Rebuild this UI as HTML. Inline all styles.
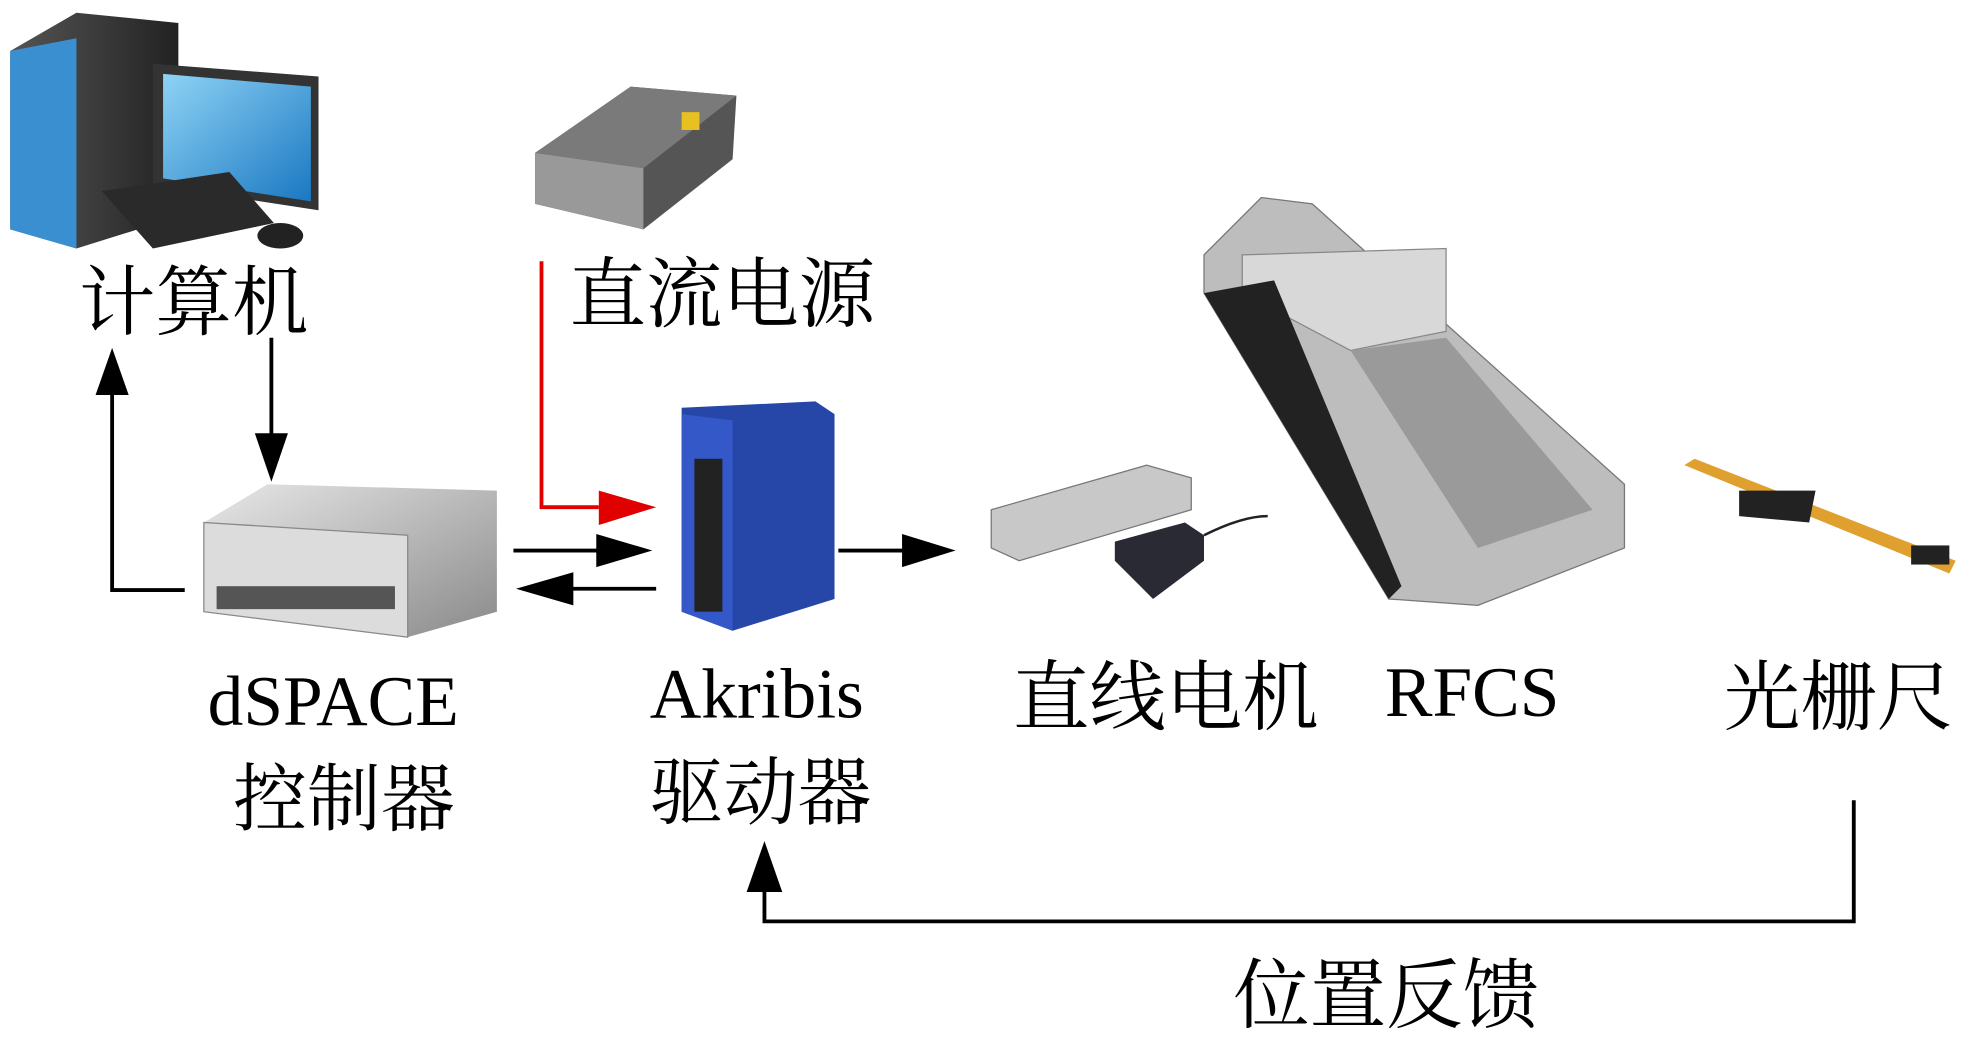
<!DOCTYPE html>
<html><head><meta charset="utf-8"><style>
html,body{margin:0;padding:0;background:#fff;}
svg{display:block;}
text{font-family:"Liberation Serif","Noto Serif CJK SC",serif;fill:#000;}
</style></head><body>
<svg width="1971" height="1059" viewBox="0 0 1547 831" preserveAspectRatio="none" xmlns="http://www.w3.org/2000/svg">
<defs>
<linearGradient id="blue" x1="0" y1="0" x2="1" y2="1"><stop offset="0" stop-color="#8fd3f5"/><stop offset="1" stop-color="#1a78c2"/></linearGradient>
<linearGradient id="gray" x1="0" y1="0" x2="1" y2="1"><stop offset="0" stop-color="#e8e8e8"/><stop offset="1" stop-color="#8a8a8a"/></linearGradient>
<linearGradient id="dk" x1="0" y1="0" x2="1" y2="0"><stop offset="0" stop-color="#555"/><stop offset="1" stop-color="#222"/></linearGradient>
</defs>
<!-- computer -->
<polygon points="8,40 60,10 140,18 140,170 60,195 8,180" fill="url(#dk)"/>
<polygon points="8,40 60,30 60,195 8,180" fill="#3a8fd0"/>
<polygon points="120,50 250,60 250,165 120,145" fill="#333"/>
<polygon points="128,58 244,68 244,158 128,140" fill="url(#blue)"/>
<polygon points="80,150 180,135 215,175 120,195" fill="#2a2a2a"/>
<ellipse cx="220" cy="185" rx="18" ry="10" fill="#222"/>
<!-- power supply -->
<polygon points="420,120 495,68 578,75 575,125 505,180 420,160" fill="#555"/>
<polygon points="420,120 505,132 505,180 420,160" fill="#999"/>
<polygon points="495,68 578,75 505,132 420,120" fill="#7a7a7a"/>
<rect x="535" y="88" width="14" height="14" fill="#e8c020"/>
<!-- dSPACE box -->
<polygon points="160,410 210,380 390,385 390,480 320,500 160,480" fill="url(#gray)"/>
<polygon points="160,410 320,420 320,500 160,480" fill="#dcdcdc" stroke="#888"/>
<rect x="170" y="460" width="140" height="18" fill="#555"/>
<!-- Akribis drive -->
<polygon points="535,320 640,315 655,325 655,470 575,495 535,480" fill="#2747a8"/>
<polygon points="535,325 575,330 575,495 535,480" fill="#3558c8"/>
<rect x="545" y="360" width="22" height="120" fill="#222"/>
<!-- linear motor -->
<polygon points="778,400 900,365 935,375 935,400 800,440 778,430" fill="#c8c8c8" stroke="#777"/>
<polygon points="875,425 930,410 945,420 945,440 905,470 875,440" fill="#2a2a35"/>
<path d="M945,420 Q975,405 995,405" stroke="#222" stroke-width="2" fill="none"/>
<!-- RFCS -->
<polygon points="945,200 990,155 1030,160 1275,380 1275,430 1160,475 1090,470 945,230" fill="#bdbdbd" stroke="#777"/>
<polygon points="975,200 1135,195 1135,260 1060,275 975,230" fill="#d8d8d8" stroke="#888"/>
<polygon points="945,230 1000,220 1100,460 1090,470" fill="#222"/>
<polygon points="1060,275 1135,265 1250,400 1160,430" fill="#9a9a9a"/>
<!-- grating -->
<polygon points="1322,365 1330,360 1535,440 1530,450" fill="#e0a030"/>
<polygon points="1365,385 1425,385 1420,410 1365,405" fill="#222"/>
<rect x="1500" y="428" width="30" height="15" fill="#222"/>
<!-- arrows -->
<g stroke="#000" stroke-width="3" fill="none">
<line x1="213" y1="265" x2="213" y2="345"/>
<polyline points="145,463 88,463 88,305"/>
<line x1="403" y1="432" x2="470" y2="432"/>
<line x1="515" y1="462" x2="448" y2="462"/>
<line x1="658" y1="432" x2="710" y2="432"/>
<polyline points="1455,628 1455,723 600,723 600,695"/>
</g>
<polyline points="425,205 425,398 470,398" stroke="#e00000" stroke-width="3" fill="none"/>
<polygon points="470,385 515,398 470,412" fill="#e00000"/>
<polygon points="200,340 226,340 213,378" fill="#000"/>
<polygon points="75,310 101,310 88,273" fill="#000"/>
<polygon points="468,419 512,432 468,445" fill="#000"/>
<polygon points="450,449 405,462 450,475" fill="#000"/>
<polygon points="708,419 750,432 708,445" fill="#000"/>
<polygon points="586,700 614,700 600,660" fill="#000"/>
<!-- labels -->
<text x="62" y="258" font-size="60">计算机</text>
<text x="447" y="252" font-size="60">直流电源</text>
<text x="163" y="569" font-size="56">dSPACE</text>
<text x="183" y="647" font-size="58">控制器</text>
<text x="510" y="563" font-size="56">Akribis</text>
<text x="510" y="642" font-size="58">驱动器</text>
<text x="795" y="568" font-size="60">直线电机</text>
<text x="1087" y="562" font-size="56">RFCS</text>
<text x="1353" y="568" font-size="60">光栅尺</text>
<text x="968" y="802" font-size="60">位置反馈</text>
</svg>
</body></html>
